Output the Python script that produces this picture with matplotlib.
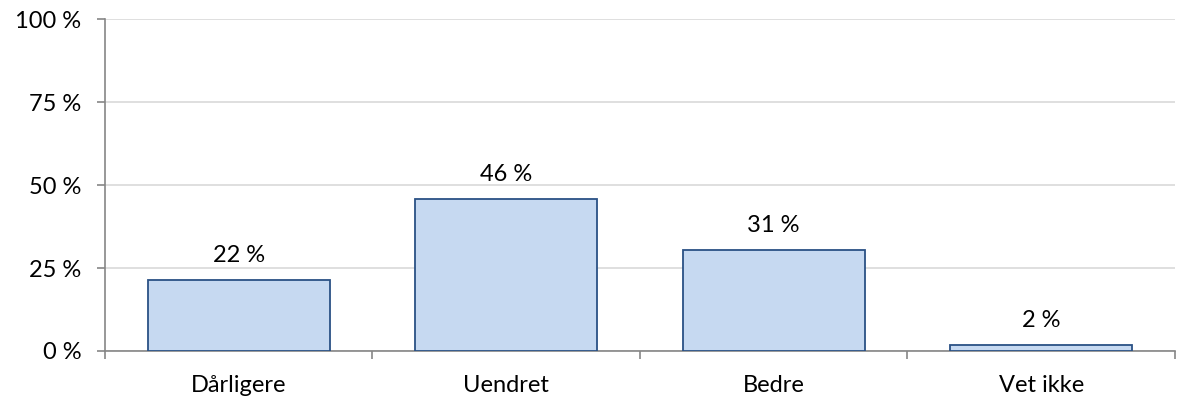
import numpy as np
import matplotlib.pyplot as plt

plt.rcParams['font.family'] = ['Lato', 'DejaVu Sans']

categories = ['Dårligere', 'Uendret', 'Bedre', 'Vet ikke']
values = [21.5, 46.0, 30.5, 1.8]
value_labels = ['22 %', '46 %', '31 %', '2 %']
y_ticks = [0, 25, 50, 75, 100]

fig = plt.figure(figsize=(11.82, 4.01), dpi=100)
ax = fig.add_axes([0.0888, 0.1247, 0.9052, 0.8267])

x = np.arange(len(categories))
bars = ax.bar(x, values, width=0.68, color='#c6d9f1', edgecolor='#2a5185', linewidth=1.3, zorder=3)

for rect, lab in zip(bars, value_labels):
    ax.annotate(lab, (rect.get_x() + rect.get_width() / 2, rect.get_height()),
                xytext=(0, 10), textcoords='offset points', ha='center', va='bottom',
                fontsize=17, color='black')

ax.set_xlim(-0.5, len(categories) - 0.5)
ax.set_ylim(0, 100)
ax.set_yticks(y_ticks)
ax.set_yticklabels([f'{v} %' for v in y_ticks], fontsize=17)
ax.yaxis.grid(True, color='#d9d9d9', linewidth=1.2, zorder=0)

ax.set_xticks(x)
ax.set_xticklabels(categories, fontsize=17)
ax.set_xticks(np.arange(-0.5, len(categories)), minor=True)
ax.tick_params(axis='x', which='major', length=0, pad=17)
ax.tick_params(axis='x', which='minor', length=6, color='#868686', width=1.2)
ax.tick_params(axis='y', length=6, color='#868686', width=1.2, pad=11)

for side in ['top', 'right']:
    ax.spines[side].set_visible(False)
for side in ['left', 'bottom']:
    ax.spines[side].set_color('#868686')
    ax.spines[side].set_linewidth(1.2)

fig.savefig('out.png', dpi=100)
